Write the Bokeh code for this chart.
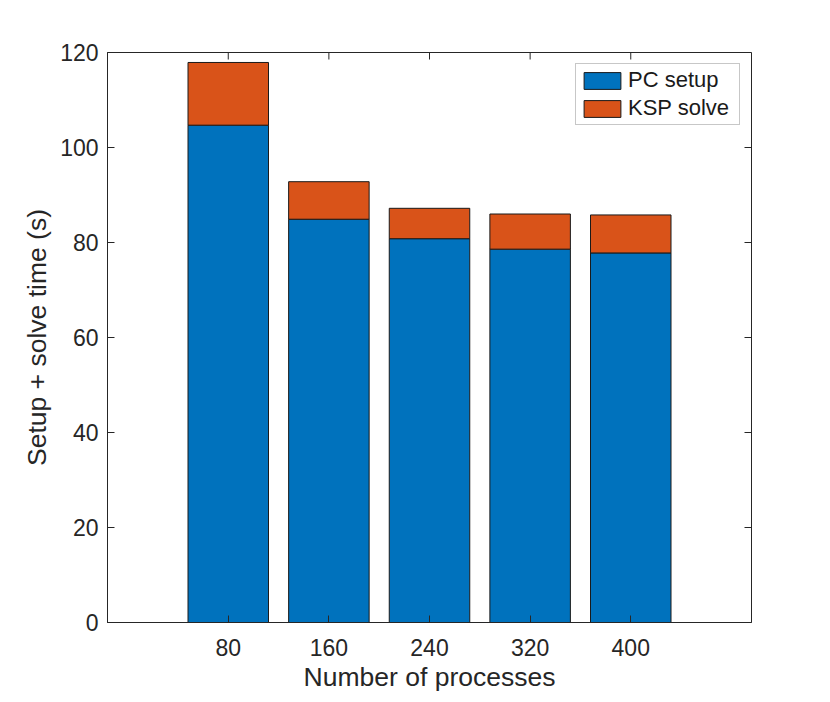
import math
from bokeh.plotting import figure
from bokeh.models import ColumnDataSource, Range1d, FixedTicker
from bokeh.embed import file_html
from bokeh.resources import INLINE

# ---- data ----
processes = [80, 160, 240, 320, 400]
pc_setup = [104.7, 84.9, 80.8, 78.6, 77.8]
ksp_solve = [13.2, 7.9, 6.4, 7.4, 8.0]
series_names = ["PC setup", "KSP solve"]
y_ticks = [0, 20, 40, 60, 80, 100, 120]
x_lim = (-16, 496)
y_lim = (0, 120)

BLUE = "#0072BD"
ORANGE = "#D95319"
AX = "#262626"
FONT = "Liberation Sans"

src = ColumnDataSource(dict(procs=processes, pc=pc_setup, ksp=ksp_solve))

p = figure(width=822, height=694, output_backend="svg", toolbar_location=None,
           x_range=Range1d(*x_lim), y_range=Range1d(*y_lim),
           min_border_left=107, min_border_right=71, min_border_top=52, min_border_bottom=70,
           background_fill_color="white", border_fill_color="white")
p.xgrid.visible = False
p.ygrid.visible = False
p.outline_line_color = AX
p.outline_line_width = 1

p.vbar_stack(["pc", "ksp"], x="procs", width=64, source=src,
             fill_color=[BLUE, ORANGE], line_color="#1a1a1a", line_width=1,
             legend_label=series_names)

def style_axis(ax):
    ax.axis_line_color = AX
    ax.major_tick_line_color = AX
    ax.major_tick_in = 7
    ax.major_tick_out = 0
    ax.minor_tick_line_color = None
    ax.major_label_text_color = AX
    ax.major_label_text_font = FONT
    ax.major_label_text_font_size = "23px"
    ax.axis_label_text_color = AX
    ax.axis_label_text_font = FONT
    ax.axis_label_text_font_size = "26.5px"
    ax.axis_label_text_font_style = "normal"

xa = p.xaxis[0]
style_axis(xa)
xa.ticker = FixedTicker(ticks=processes)
xa.axis_label = "Number of processes"
xa.major_label_standoff = 16
xa.axis_label_standoff = 3

ya = p.yaxis[0]
style_axis(ya)
ya.ticker = FixedTicker(ticks=y_ticks)
ya.axis_label = "Setup + solve time (s)"
ya.major_label_standoff = 9
ya.axis_label_standoff = 5

# mirrored inward ticks on the top and right edges of the box
p.ray(x=processes, y=[y_lim[1]] * len(processes), length=7, length_units="screen",
      angle=-math.pi / 2, line_color=AX, line_width=1)
p.ray(x=[x_lim[1]] * len(y_ticks), y=y_ticks, length=7, length_units="screen",
      angle=math.pi, line_color=AX, line_width=1)

lg = p.legend[0]
lg.location = "top_right"
lg.margin = 11
lg.padding = 3
lg.spacing = 2
lg.glyph_width = 46
lg.glyph_height = 21
lg.label_standoff = 3
lg.label_width = 108
lg.label_text_font = FONT
lg.label_text_font_size = "22px"
lg.label_text_color = "#1a1a1a"
lg.border_line_color = "#8f8f8f"
lg.border_line_width = 1
lg.background_fill_color = "white"
lg.background_fill_alpha = 1.0

open("out.html", "w").write(file_html(p, INLINE))
